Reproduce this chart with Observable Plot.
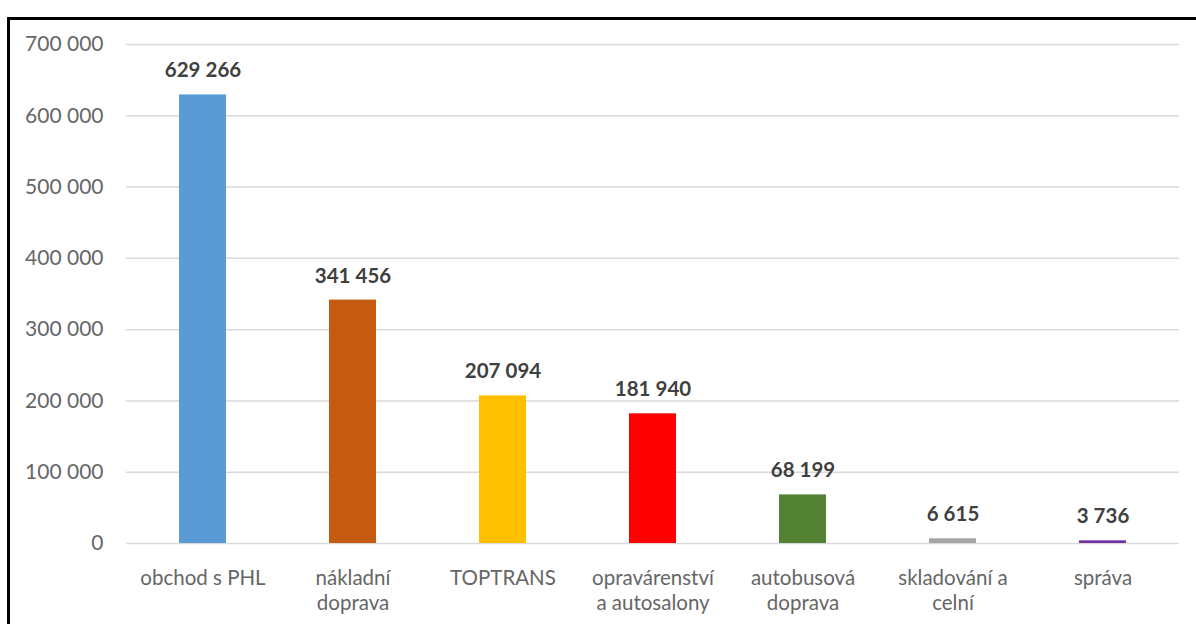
<!DOCTYPE html>
<html>
<head>
<meta charset="utf-8">
<script src="https://cdn.jsdelivr.net/npm/d3@7"></script>
<script src="https://cdn.jsdelivr.net/npm/@observablehq/plot@0.6"></script>
<style>
  html, body { margin: 0; padding: 0; background: #fff; }
  #wrap { position: relative; width: 1196px; height: 624px; overflow: hidden; }
  #frame { position: absolute; left: 7px; top: 17px; right: 0; bottom: 0; border-top: 3px solid #000; border-left: 3px solid #000; }
  #chart { position: absolute; left: 0; top: 0; }
</style>
</head>
<body>
<div id="wrap"><div id="frame"></div><div id="chart"></div></div>
<script>
const categories = ["obchod s PHL", "nákladní\ndoprava", "TOPTRANS", "opravárenství\na autosalony", "autobusová\ndoprava", "skladování a\nceln\u00ed", "správa"];
const values = [629266, 341456, 207094, 181940, 68199, 6615, 3736];
const colors = ["#5B9BD5", "#C55A11", "#FFC000", "#FF0000", "#548235", "#A5A5A5", "#7030A0"];
const yTicks = [0, 100000, 200000, 300000, 400000, 500000, 600000, 700000];

const data = categories.map((c, i) => ({category: c, value: values[i], color: colors[i]}));
const fmt = v => d3.format(",")(v).replace(/,/g, " ");

const chart = Plot.plot({
  width: 1196,
  height: 624,
  marginLeft: 126,
  marginRight: 17,
  marginTop: 44,
  marginBottom: 81,
  style: {fontFamily: "Lato, sans-serif", background: "transparent"},
  x: {domain: categories, paddingInner: 0.69, paddingOuter: 0.345, label: null},
  y: {domain: [0, 700000], label: null},
  marks: [
    Plot.gridY(yTicks, {stroke: "#d9d9d9", strokeOpacity: 1, strokeWidth: 1.5}),
    Plot.axisY(yTicks, {tickSize: 0, tickPadding: 23, tickFormat: fmt, fontSize: 21, fill: "#666666", label: null}),
    Plot.axisX({tickSize: 0, tickPadding: 23, fontSize: 20.5, fill: "#666666", lineHeight: 1.25, label: null, lineAnchor: "top"}),
    Plot.barY(data, {x: "category", y: "value", fill: "color"}),
    Plot.text(data, {x: "category", y: "value", text: d => fmt(d.value), dy: -24, fontSize: 20.5, fontWeight: "bold", fill: "#404040"})
  ]
});
document.getElementById("chart").appendChild(chart);
</script>
</body>
</html>
